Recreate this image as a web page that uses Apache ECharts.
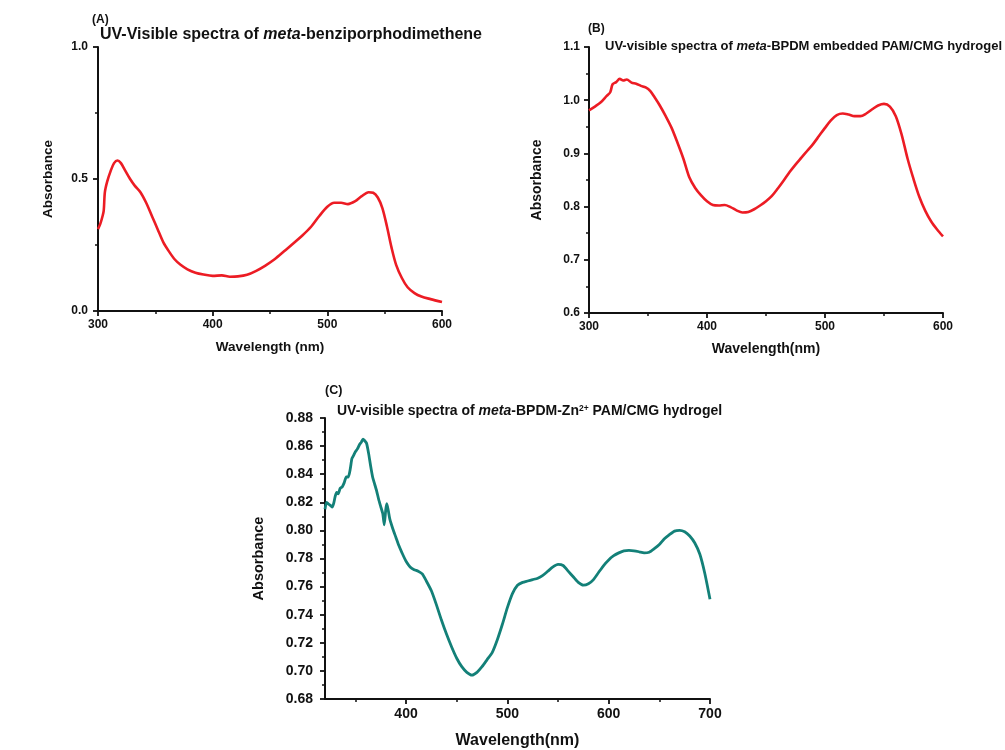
<!DOCTYPE html>
<html><head><meta charset="utf-8">
<script src="https://cdn.jsdelivr.net/npm/echarts@6/dist/echarts.min.js"></script>
<style>html,body{margin:0;padding:0;background:#fff}#c{width:1005px;height:750px}</style>
</head><body><div id="c"></div>
<script>
// Panel A: meta-benziporphodimethene
const wlA = [300,302,304,305,306,308,311,314,317,320,324,328,332,337,342,347,352,357,362,367,372,378,385,392,400,408,415,422,430,438,446,454,462,470,478,486,493,500,506,512,518,524,530,536,540,544,548,552,556,560,565,570,576,582,590,600];
const absA = [0.31,0.33,0.36,0.38,0.45,0.49,0.53,0.56,0.57,0.56,0.53,0.50,0.475,0.45,0.41,0.36,0.31,0.26,0.225,0.195,0.175,0.158,0.145,0.138,0.133,0.135,0.130,0.131,0.137,0.152,0.172,0.196,0.225,0.255,0.285,0.32,0.36,0.395,0.41,0.41,0.405,0.415,0.435,0.45,0.448,0.43,0.39,0.32,0.24,0.175,0.125,0.09,0.068,0.055,0.045,0.034];
// Panel B: meta-BPDM embedded PAM/CMG hydrogel
const wlB = [300,305,310,315,318,320,323,326,329,332,336,340,344,348,352,356,360,365,370,375,380,385,390,395,400,405,410,415,420,425,430,435,440,445,450,455,460,465,470,475,480,485,490,495,500,505,510,515,520,525,530,535,540,545,550,555,560,565,570,575,580,585,590,595,600];
const absB = [0.981,0.988,0.996,1.008,1.015,1.030,1.034,1.040,1.037,1.039,1.033,1.031,1.027,1.024,1.017,1.004,0.99,0.97,0.948,0.92,0.89,0.855,0.835,0.821,0.81,0.803,0.802,0.803,0.799,0.793,0.789,0.79,0.795,0.802,0.81,0.82,0.834,0.849,0.865,0.879,0.892,0.905,0.918,0.933,0.948,0.962,0.972,0.975,0.973,0.970,0.970,0.975,0.983,0.99,0.993,0.988,0.97,0.935,0.89,0.852,0.818,0.792,0.772,0.757,0.744];
// Panel C: meta-BPDM-Zn2+ PAM/CMG hydrogel
const wlC = [320,321.5,323,325,327,328.5,330,331.5,333,335,337,339,341,343,345,346.5,348,350,352,354,356,357.5,359,361,363,365,367,369,371,373,375,377,378.5,380,381,382.5,384,387,390,393,396,400,404,408,412,416,420,425,430,435,440,445,450,455,460,465,470,475,480,485,490,495,500,505,510,515,520,525,530,535,540,545,550,555,560,565,570,575,580,585,590,595,600,605,610,615,620,625,630,635,640,645,650,655,660,665,670,675,680,685,690,695,700];
const absC = [0.815,0.820,0.819,0.818,0.8165,0.819,0.824,0.827,0.826,0.830,0.831,0.834,0.838,0.838,0.844,0.851,0.853,0.856,0.858,0.861,0.863,0.865,0.864,0.862,0.855,0.846,0.838,0.833,0.828,0.822,0.817,0.812,0.804,0.815,0.819,0.814,0.808,0.801,0.795,0.789,0.784,0.778,0.774,0.772,0.771,0.769,0.764,0.757,0.747,0.736,0.726,0.717,0.709,0.703,0.699,0.697,0.699,0.703,0.708,0.713,0.722,0.733,0.745,0.755,0.761,0.763,0.764,0.765,0.766,0.768,0.771,0.774,0.7758,0.775,0.771,0.767,0.763,0.761,0.762,0.765,0.770,0.775,0.779,0.782,0.784,0.7855,0.7858,0.7855,0.7848,0.784,0.7845,0.787,0.790,0.794,0.797,0.7995,0.800,0.799,0.796,0.791,0.783,0.769,0.751];
const xLabelsC = [400,500,600,700];
const xMinorC = [350,450,550,650];

const FF = 'Liberation Sans, Arial, Helvetica, sans-serif';
const ink = '#111';
const axisLine = {show:true, lineStyle:{color:ink, width:2}};
const pairs = (w,a) => w.map((x,i)=>[x,a[i]]);

function xAx(grid, min, max, interval, name, gap, fs, nfs) {
  return {type:'value', gridIndex:grid, min, max, interval, position:'bottom',
    name, nameLocation:'middle', nameGap:gap,
    nameTextStyle:{fontFamily:FF, fontWeight:'bold', fontSize:nfs, color:ink},
    axisLine, splitLine:{show:false},
    axisTick:{show:true, length:5, lineStyle:{color:ink, width:1.8}},
    minorTick:{show:true, splitNumber:2, length:3, lineStyle:{color:ink, width:1.5}},
    axisLabel:{fontFamily:FF, fontWeight:'bold', fontSize:fs, color:ink, margin:8}};
}
function yAx(grid, min, max, interval, dec, gap, fs, nfs, margin) {
  return {type:'value', gridIndex:grid, min, max, interval, position:'left',
    name:'Absorbance', nameLocation:'middle', nameGap:gap,
    nameTextStyle:{fontFamily:FF, fontWeight:'bold', fontSize:nfs, color:ink},
    axisLine, splitLine:{show:false},
    axisTick:{show:true, length:5, lineStyle:{color:ink, width:1.8}},
    minorTick:{show:true, splitNumber:2, length:3, lineStyle:{color:ink, width:1.5}},
    axisLabel:{fontFamily:FF, fontWeight:'bold', fontSize:fs, color:ink, margin,
      formatter:v=>v.toFixed(dec)}};
}

const xC = xAx(2, 320, 700, null, 'Wavelength(nm)', 34, 14, 16);
delete xC.interval;
xC.minorTick = {show:false};
xC.axisTick.customValues = xLabelsC;
xC.axisLabel.customValues = xLabelsC;
const xCminor = {type:'value', gridIndex:2, min:320, max:700, position:'bottom',
  axisLine:{show:false}, splitLine:{show:false}, axisLabel:{show:false},
  axisTick:{show:true, length:3, customValues:xMinorC, lineStyle:{color:ink, width:1.5}}};

function title(text, left, top, rich) {
  return {text, left, top, padding:0, textStyle:{rich}};
}
const rb = (fs) => ({fontFamily:FF, fontWeight:'bold', fontSize:fs, color:ink});
const ri = (fs) => ({fontFamily:FF, fontWeight:'bold', fontStyle:'italic', fontSize:fs, color:ink});

const option = {
  backgroundColor:'#fff',
  animation:false,
  title:[
    title('{b|(A)}', 92, 14, {b:rb(12)}),
    title('{b|UV-Visible spectra of }{i|meta}{b|-benziporphodimethene}', 100, 27, {b:rb(16), i:ri(16)}),
    title('{b|(B)}', 588, 23, {b:rb(12)}),
    title('{b|UV-visible spectra of }{i|meta}{b|-BPDM embedded PAM/CMG hydrogel}', 605, 40, {b:rb(13), i:ri(13)}),
    title('{b|(C)}', 325, 384, {b:rb(12.5)}),
    title('{b|UV-visible spectra of }{i|meta}{b|-BPDM-Zn}{s|2+}{b| PAM/CMG hydrogel}', 337, 404, {b:rb(14), i:ri(14), s:Object.assign(rb(8.5),{verticalAlign:'top', lineHeight:10})})
  ],
  grid:[
    {left:98, top:47, width:344, height:264},
    {left:589, top:47, width:354, height:266},
    {left:325, top:418, width:385, height:282}
  ],
  xAxis:[
    xAx(0, 300, 600, 100, 'Wavelength (nm)', 29, 12, 13.5),
    xAx(1, 300, 600, 100, 'Wavelength(nm)', 29, 12, 14),
    xC, xCminor
  ],
  yAxis:[
    yAx(0, 0, 1, 0.5, 1, 43, 12, 13.5, 10),
    yAx(1, 0.6, 1.1, 0.1, 1, 45, 12, 14, 9),
    yAx(2, 0.68, 0.88, 0.02, 2, 59, 14, 14.5, 12)
  ],
  series:[
    {type:'line', xAxisIndex:0, yAxisIndex:0, data:pairs(wlA,absA), showSymbol:false, smooth:0.3, lineStyle:{color:'#ec1c24', width:2.6}},
    {type:'line', xAxisIndex:1, yAxisIndex:1, data:pairs(wlB,absB), showSymbol:false, smooth:0.3, lineStyle:{color:'#ec1c24', width:2.6}},
    {type:'line', xAxisIndex:2, yAxisIndex:2, data:pairs(wlC,absC), showSymbol:false, smooth:0.2, lineStyle:{color:'#138078', width:2.8}}
  ]
};
const chart = echarts.init(document.getElementById('c'), null, {renderer:'canvas'});
chart.setOption(option);
</script></body></html>
